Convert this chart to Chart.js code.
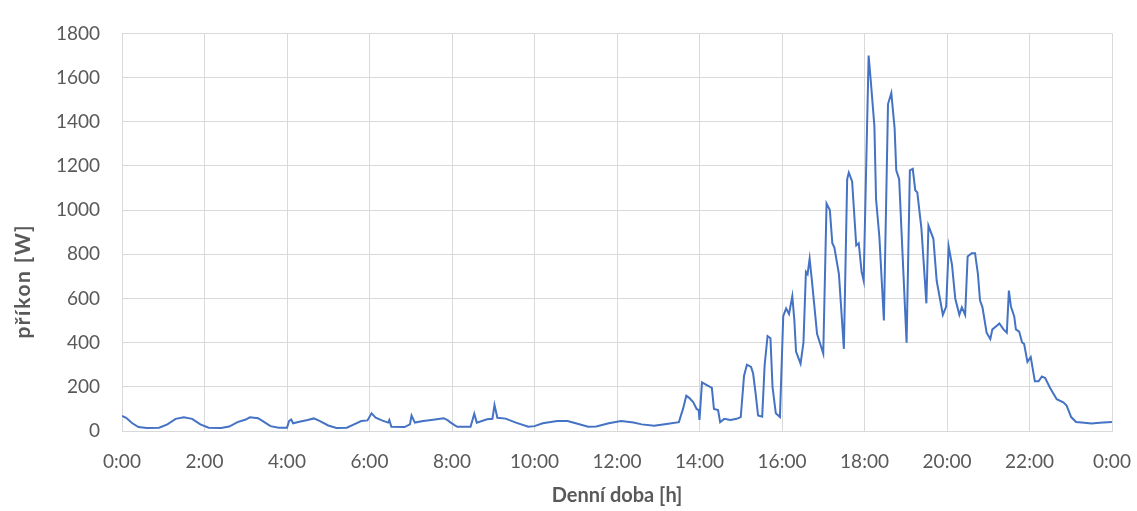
<!DOCTYPE html>
<html>
<head>
<meta charset="utf-8">
<script src="https://cdn.jsdelivr.net/npm/chart.js@4.4.1/dist/chart.umd.min.js"></script>
<style>
  html, body { margin: 0; padding: 0; background: #fff; }
  #wrap { width: 1137px; height: 511px; }
</style>
</head>
<body>
<div id="wrap"><canvas id="chart" width="1137" height="511"></canvas></div>
<script>
// hodiny (denní doba) a příkon ve wattech
const hours = [
  0.0, 0.1, 0.25, 0.4, 0.6, 0.9, 1.1, 1.3, 1.5, 1.7, 1.9, 2.1, 2.4, 2.6, 2.8, 3.0, 3.1, 3.3, 3.45, 3.6,
  3.8, 4.0, 4.05, 4.1, 4.15, 4.3, 4.5, 4.65, 4.8, 5.0, 5.2, 5.45, 5.6, 5.8, 5.95, 6.05, 6.15, 6.3, 6.45, 6.48,
  6.53, 6.85, 6.98, 7.02, 7.1, 7.3, 7.5, 7.8, 7.9, 7.97, 8.05, 8.13, 8.45, 8.54, 8.6, 8.85, 8.98, 9.03, 9.1, 9.3,
  9.55, 9.85, 10.0, 10.2, 10.55, 10.8, 11.0, 11.3, 11.5, 11.8, 12.1, 12.4, 12.6, 12.9, 13.2, 13.5, 13.6, 13.68, 13.75, 13.85,
  13.93, 13.98, 14.0, 14.06, 14.2, 14.3, 14.35, 14.45, 14.5, 14.6, 14.75, 14.9, 15.0, 15.08, 15.15, 15.25, 15.3, 15.36, 15.42, 15.52,
  15.58, 15.65, 15.72, 15.77, 15.85, 15.95, 16.03, 16.1, 16.17, 16.25, 16.3, 16.34, 16.45, 16.52, 16.58, 16.62, 16.67, 16.72, 16.85, 16.95,
  17.0, 17.08, 17.16, 17.22, 17.27, 17.38, 17.5, 17.58, 17.62, 17.7, 17.8, 17.86, 17.93, 17.98, 18.1, 18.15, 18.24, 18.28, 18.36, 18.47,
  18.57, 18.65, 18.73, 18.77, 18.84, 19.02, 19.1, 19.17, 19.23, 19.28, 19.38, 19.5, 19.55, 19.67, 19.75, 19.9, 19.98, 20.04, 20.12, 20.2,
  20.3, 20.36, 20.44, 20.5, 20.6, 20.68, 20.75, 20.8, 20.86, 20.96, 21.05, 21.1, 21.2, 21.27, 21.37, 21.45, 21.5, 21.55, 21.63, 21.67,
  21.75, 21.82, 21.87, 21.95, 22.03, 22.13, 22.22, 22.3, 22.38, 22.5, 22.66, 22.82, 22.9, 23.01, 23.13, 23.33, 23.5, 23.7, 24.0
];
const watts = [
  68, 60, 35, 18, 14, 15, 30, 55, 62, 55, 30, 15, 14, 20, 40, 52, 62, 58, 40, 22,
  15, 15, 45, 52, 35, 42, 50, 57, 45, 25, 14, 15, 28, 45, 48, 80, 60, 48, 38, 50,
  19, 18, 30, 70, 38, 45, 50, 58, 48, 38, 28, 19, 19, 78, 38, 53, 55, 118, 60, 56,
  38, 19, 22, 35, 45, 45, 35, 19, 20, 35, 45, 38, 30, 24, 32, 40, 100, 160, 150, 130,
  100, 95, 50, 220, 205, 195, 100, 95, 40, 55, 50, 55, 63, 250, 300, 290, 260, 170, 70, 65,
  300, 430, 420, 200, 80, 63, 520, 555, 530, 610, 500, 360, 305, 400, 720, 710, 780, 690, 440, 380,
  350, 1030, 1000, 850, 830, 710, 372, 1140, 1170, 1130, 840, 850, 720, 680, 1700, 1590, 1380, 1050, 880, 500,
  1480, 1530, 1370, 1180, 1140, 400, 1180, 1187, 1090, 1080, 916, 578, 930, 870, 680, 526, 563, 835, 754, 600,
  526, 560, 526, 790, 805, 805, 710, 592, 560, 445, 416, 460, 475, 487, 460, 445, 636, 563, 519, 460,
  450, 401, 394, 313, 335, 225, 225, 247, 240, 195, 144, 130, 115, 63, 41, 37, 34, 37, 41
];
const xTickLabels = ['0:00', '2:00', '4:00', '6:00', '8:00', '10:00', '12:00', '14:00', '16:00', '18:00', '20:00', '22:00', '0:00'];
const yTicks = [0, 200, 400, 600, 800, 1000, 1200, 1400, 1600, 1800];
const xTitle = 'Denní doba [h]';
const yTitle = 'příkon [W]';

const textColor = '#595959';
const gridColor = '#d9d9d9';
const fontFamily = 'Lato, "Open Sans", sans-serif';

// popisek osy Y je v originále posunutý níž než střed grafu
const yTitlePlugin = {
  id: 'yTitle',
  afterDraw(chart) {
    const ctx = chart.ctx;
    const area = chart.chartArea;
    ctx.save();
    ctx.translate(23, (area.top + area.bottom) / 2 + 49);
    ctx.rotate(-Math.PI / 2);
    ctx.fillStyle = textColor;
    ctx.font = 'bold 21px ' + fontFamily;
    ctx.letterSpacing = '1.4px';
    ctx.textAlign = 'center';
    ctx.textBaseline = 'middle';
    ctx.fillText(yTitle, 0, 0);
    ctx.restore();
  }
};

const ctx = document.getElementById('chart').getContext('2d');
new Chart(ctx, {
  type: 'line',
  data: {
    datasets: [{
      data: hours.map((h, i) => ({ x: h, y: watts[i] })),
      borderColor: '#4472c4',
      borderWidth: 2,
      pointRadius: 0,
      tension: 0,
      fill: false
    }]
  },
  options: {
    responsive: false,
    animation: false,
    events: [],
    layout: { padding: { top: 23, right: 25, left: 0, bottom: 0 } },
    plugins: {
      legend: { display: false },
      tooltip: { enabled: false }
    },
    scales: {
      x: {
        type: 'linear',
        min: 0,
        max: 24,
        afterBuildTicks: (axis) => {
          axis.ticks = xTickLabels.map((_, i) => ({ value: i * 2 }));
        },
        afterFit: (axis) => {
          axis.height = 80;
          axis.paddingLeft = 0;
          axis.paddingRight = 0;
        },
        ticks: {
          callback: (v, i) => xTickLabels[i],
          color: textColor,
          font: { family: fontFamily, size: 19 },
          padding: 19,
          maxRotation: 0,
          autoSkip: false
        },
        grid: { color: gridColor, drawTicks: false },
        border: { color: gridColor },
        title: {
          display: true,
          text: xTitle,
          color: textColor,
          font: { family: fontFamily, size: 20, weight: 'bold' },
          padding: { top: 0, bottom: 3 }
        }
      },
      y: {
        min: 0,
        max: 1800,
        afterBuildTicks: (axis) => {
          axis.ticks = yTicks.map(v => ({ value: v }));
        },
        afterFit: (axis) => { axis.width = 122; },
        ticks: {
          callback: (v) => String(v),
          color: textColor,
          font: { family: fontFamily, size: 19 },
          padding: 22
        },
        grid: { color: gridColor, drawTicks: false },
        border: { display: false }
      }
    }
  },
  plugins: [yTitlePlugin]
});
</script>
</body>
</html>
